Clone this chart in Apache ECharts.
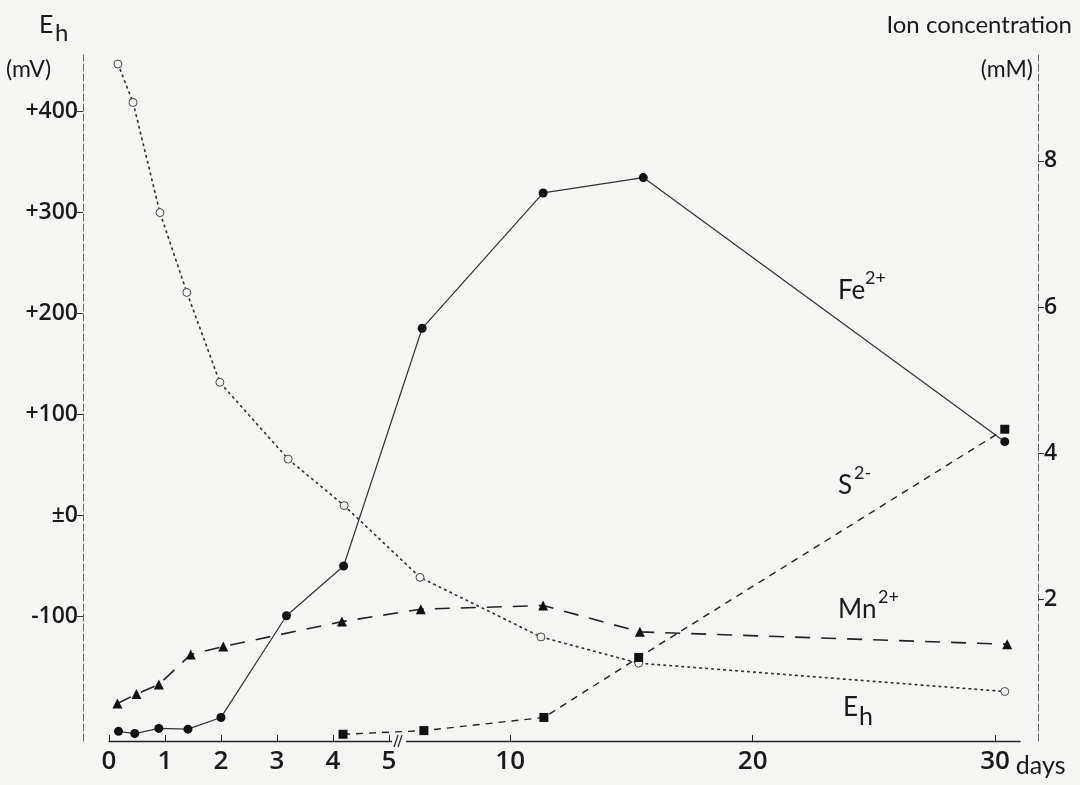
<!DOCTYPE html>
<html><head><meta charset="utf-8">
<script src="https://cdn.jsdelivr.net/npm/echarts@6/dist/echarts.min.js"></script>
<style>html,body{margin:0;padding:0;background:#f5f5f3}#c{width:1080px;height:785px}</style>
</head><body><div id="c"></div>
<script>
// ---- data (days, values) ----
const ehDays   = [0.16, 0.43, 0.91, 1.39, 1.98, 3.2, 4.2, 6.28, 11.27, 15.3, 30.4];
const ehValues = [447, 409, 300, 221, 132, 56, 10, -61, -120, -146, -174];        // mV
const feDays   = [0.17, 0.46, 0.89, 1.41, 2.0, 3.17, 4.19, 6.37, 11.36, 15.49, 30.4];
const feValues = [0.20, 0.17, 0.24, 0.23, 0.39, 1.78, 2.46, 5.71, 7.56, 7.77, 4.16]; // mM
const mnDays   = [0.15, 0.49, 0.89, 1.46, 2.04, 4.16, 6.31, 11.36, 15.35, 30.5];
const mnValues = [0.58, 0.71, 0.84, 1.25, 1.36, 1.70, 1.87, 1.92, 1.56, 1.39];       // mM
const sDays    = [4.18, 6.44, 11.39, 15.3, 30.4];
const sValues  = [0.16, 0.21, 0.39, 1.21, 4.33];                                      // mM
const xTickDays = [0, 1, 2, 3, 4, 5, 10, 20, 30];
const ehTicks   = [-100, 0, 100, 200, 300, 400];
const ionTicks  = [2, 4, 6, 8];

// broken time axis: 0-5 days expanded, beyond 5 compressed
const BREAK = 5, K = 0.433;
const u = d => d <= BREAK ? d : BREAK + (d - BREAK) * K;
const uInv = v => v <= BREAK + 1e-6 ? v : BREAK + (v - BREAK) / K;
const pairs = (xs, ys) => xs.map((d, i) => [u(d), ys[i]]);

const BG = '#f5f5f3', INK = '#1a1a1a';
const numFont = 'Open Sans';
const txtFont = 'Lato';

const chart = echarts.init(document.getElementById('c'), null, {renderer: 'canvas'});

function supText(x, y, base, sup, size, supSize, dx, dy) {
  return [
    {type: 'text', x: x, y: y, style: {text: base, fontSize: size, fontFamily: txtFont, fill: INK, textVerticalAlign: 'top'}},
    {type: 'text', x: x + dx, y: y + dy, style: {text: sup, fontSize: supSize, fontFamily: txtFont, fill: INK, textVerticalAlign: 'top'}}
  ];
}

const graphics = [].concat(
  supText(39, 12, 'E', 'h', 25, 24, 16, 9),
  [{type: 'text', x: 6, y: 58, style: {text: '(mV)', fontSize: 23, fontFamily: txtFont, fill: INK, textVerticalAlign: 'top'}}],
  [{type: 'text', x: 1072, y: 13, style: {text: 'Ion concentration', fontSize: 24, fontFamily: txtFont, fill: INK, textAlign: 'right', textVerticalAlign: 'top'}}],
  [{type: 'text', x: 1033, y: 58, style: {text: '(mM)', fontSize: 23, fontFamily: txtFont, fill: INK, textAlign: 'right', textVerticalAlign: 'top'}}],
  supText(838, 278, 'Fe', '2+', 26, 18, 27, -9),
  supText(838, 473, 'S', '2-', 26, 18, 16, -9),
  supText(838, 597, 'Mn', '2+', 26, 18, 40, -9),
  supText(843, 695, 'E', 'h', 26, 25, 16, 9)
);

const option = {
  backgroundColor: BG,
  animation: false,
  grid: {left: 109, right: 60, top: 55, bottom: 44, containLabel: false},
  xAxis: {
    type: 'value', min: 0, max: 16.27,
    axisLine: {show: true, onZero: false, lineStyle: {color: '#222', width: 1.3}},
    splitLine: {show: false},
    axisTick: {show: true, inside: true, length: 6, customValues: xTickDays.map(u), lineStyle: {color: '#222'}},
    axisLabel: {
      customValues: xTickDays.map(u), margin: 8, color: INK, fontSize: 26, fontWeight: 600, fontFamily: numFont,
      formatter: v => String(Math.round(uInv(v)))
    },
    name: 'days', nameLocation: 'end', nameGap: 2,
    nameTextStyle: {fontSize: 25, fontFamily: txtFont, color: INK, align: 'left', verticalAlign: 'top', padding: [12, 0, 0, -8]}
  },
  yAxis: [
    {
      type: 'value', position: 'left', offset: 26, min: -223, max: 456,
      axisLine: {show: true, onZero: false, lineStyle: {color: '#666', width: 1, type: [7, 3]}},
      splitLine: {show: false},
      axisTick: {show: true, length: 6, customValues: ehTicks, lineStyle: {color: '#333'}},
      axisLabel: {
        customValues: ehTicks, margin: 5, color: INK, fontSize: 23, fontWeight: 600, fontFamily: numFont,
        formatter: v => v > 0 ? '+' + v : (v === 0 ? '±0' : String(v))
      }
    },
    {
      type: 'value', position: 'right', offset: 18, min: 0.068, max: 9.446,
      axisLine: {show: true, onZero: false, lineStyle: {color: '#666', width: 1, type: [7, 3]}},
      splitLine: {show: false},
      axisTick: {show: true, length: 6, customValues: ionTicks, lineStyle: {color: '#333'}},
      axisLabel: {customValues: ionTicks, margin: 6, color: INK, fontSize: 23, fontWeight: 600, fontFamily: numFont, formatter: v => String(v)}
    }
  ],
  series: [
    {
      name: 'Eh', type: 'line', yAxisIndex: 0, data: pairs(ehDays, ehValues),
      symbol: 'circle', symbolSize: 8,
      itemStyle: {color: BG, borderColor: '#444', borderWidth: 1},
      lineStyle: {color: '#333', width: 1.7, type: [1.5, 4.5], cap: 'round'}, z: 2
    },
    {
      name: 'Fe2+', type: 'line', yAxisIndex: 1, data: pairs(feDays, feValues),
      symbol: 'circle', symbolSize: 9,
      itemStyle: {color: '#111'},
      lineStyle: {color: '#333', width: 1.2}, z: 3
    },
    {
      name: 'Mn2+', type: 'line', yAxisIndex: 1, data: pairs(mnDays, mnValues),
      symbol: 'triangle', symbolSize: 10,
      itemStyle: {color: '#111'},
      lineStyle: {color: '#222', width: 1.6, type: [15, 11]}, z: 3
    },
    {
      name: 'S2-', type: 'line', yAxisIndex: 1, data: pairs(sDays, sValues),
      symbol: 'rect', symbolSize: 9,
      itemStyle: {color: '#111'},
      lineStyle: {color: '#222', width: 1.4, type: [7, 6]}, z: 3
    }
  ],
  graphic: graphics
};
chart.setOption(option);

// axis break marker just past 5 days
const bx = chart.convertToPixel({xAxisIndex: 0}, 5.18);
const by = chart.convertToPixel({yAxisIndex: 0}, -223);
const breakEls = [
  {type: 'rect', shape: {x: bx - 7, y: by - 4, width: 14, height: 8}, style: {fill: BG}, z: 100},
  {type: 'line', shape: {x1: bx - 5, y1: by + 6, x2: bx - 1, y2: by - 6}, style: {stroke: '#222', lineWidth: 1.2}, z: 101},
  {type: 'line', shape: {x1: bx - 1, y1: by + 6, x2: bx + 3, y2: by - 6}, style: {stroke: '#222', lineWidth: 1.2}, z: 101}
];
chart.setOption({graphic: graphics.concat(breakEls)});
</script>
</body></html>
